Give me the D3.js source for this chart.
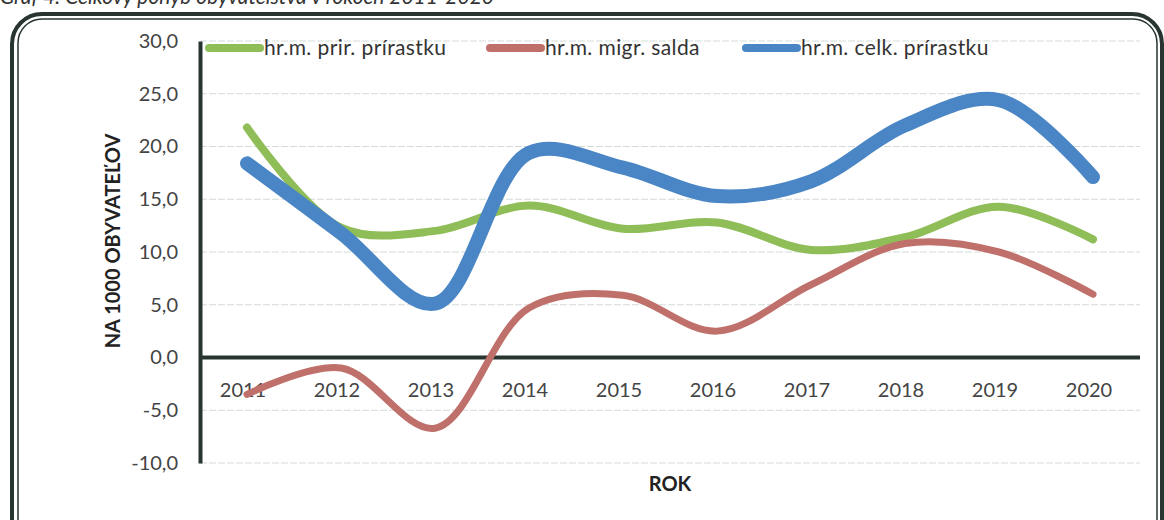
<!DOCTYPE html>
<html>
<head>
<meta charset="utf-8">
<script src="https://cdn.jsdelivr.net/npm/d3@7"></script>
<style>
  body { margin: 0; background: #fff; }
  svg { display: block; }
</style>
</head>
<body>
<div id="chart"></div>
<script>
const years = ['2011', '2012', '2013', '2014', '2015', '2016', '2017', '2018', '2019', '2020'];
const prirodzeny = [21.8, 12.3, 12.0, 14.4, 12.2, 12.8, 10.2, 11.4, 14.3, 11.2];
const migracny = [-3.5, -1.0, -6.7, 4.7, 5.9, 2.5, 6.9, 10.8, 10.0, 6.0];
const celkovy = [18.4, 11.8, 5.1, 19.4, 18.0, 15.3, 16.7, 22.0, 24.4, 17.1];
const yTicks = [30, 25, 20, 15, 10, 5, 0, -5, -10];

const series = [
  { name: 'hr.m. prir. prírastku', values: prirodzeny, color: '#8fbd57', width: 8 },
  { name: 'hr.m. migr. salda', values: migracny, color: '#c0706a', width: 7 },
  { name: 'hr.m. celk. prírastku', values: celkovy, color: '#4a86c5', width: 14 }
];

const width = 1164;
const height = 520;
const margin = { top: 41, right: 24, bottom: 57, left: 200 };
const font = 'Lato, sans-serif';

const svg = d3.select('#chart')
  .append('svg')
  .attr('width', width)
  .attr('height', height);

// title, cut off by the scan in the reference
svg.append('text')
  .attr('x', 0)
  .attr('y', 4)
  .attr('font-family', font)
  .attr('font-style', 'italic')
  .attr('font-size', 21)
  .attr('fill', '#333')
  .text('Graf 4: Celkový pohyb obyvateľstva v rokoch 2011-2020');

// double rounded frame
svg.append('rect')
  .attr('x', 12).attr('y', 14)
  .attr('width', 1150).attr('height', 540)
  .attr('rx', 30)
  .attr('fill', 'none')
  .attr('stroke', '#27342f')
  .attr('stroke-width', 4);
svg.append('rect')
  .attr('x', 18).attr('y', 19)
  .attr('width', 1139).attr('height', 525)
  .attr('rx', 24)
  .attr('fill', 'none')
  .attr('stroke', '#27342f')
  .attr('stroke-width', 1.5);

const x = d3.scaleBand()
  .domain(years)
  .range([margin.left, width - margin.right]);

const y = d3.scaleLinear()
  .domain([-10, 30])
  .range([height - margin.bottom, margin.top]);

// grid
svg.append('g')
  .selectAll('line')
  .data(yTicks)
  .join('line')
    .attr('x1', margin.left)
    .attr('x2', width - margin.right)
    .attr('y1', d => y(d))
    .attr('y2', d => y(d))
    .attr('stroke', '#d3dbd8')
    .attr('stroke-width', 1)
    .attr('stroke-dasharray', '7,2');

// y axis
const yAxis = svg.append('g')
  .attr('transform', `translate(${margin.left},0)`)
  .call(d3.axisLeft(y).tickValues(yTicks).tickSize(0).tickPadding(22)
    .tickFormat(d => d3.format('.1f')(d).replace('.', ',').replace('−', '-')));
yAxis.select('.domain')
  .attr('stroke', '#27342f')
  .attr('stroke-width', 4);
yAxis.selectAll('text')
  .attr('font-family', font)
  .attr('font-size', 20)
  .attr('fill', '#444');

// zero line
svg.append('line')
  .attr('x1', margin.left)
  .attr('x2', width - margin.right)
  .attr('y1', y(0))
  .attr('y2', y(0))
  .attr('stroke', '#27342f')
  .attr('stroke-width', 4);

// x labels
svg.append('g')
  .selectAll('text')
  .data(years)
  .join('text')
    .attr('x', d => x(d) + x.bandwidth() / 2 - 4)
    .attr('y', y(0) + 39)
    .attr('text-anchor', 'middle')
    .attr('font-family', font)
    .attr('font-size', 20)
    .attr('fill', '#444')
    .text(d => d);

// axis titles
svg.append('text')
  .attr('transform', `translate(120,241) rotate(-90)`)
  .attr('text-anchor', 'middle')
  .attr('font-family', font)
  .attr('font-weight', 'bold')
  .attr('font-size', 20)
  .attr('fill', '#222')
  .text('NA 1000 OBYVATEĽOV');

svg.append('text')
  .attr('x', 670)
  .attr('y', 491)
  .attr('text-anchor', 'middle')
  .attr('font-family', font)
  .attr('font-weight', 'bold')
  .attr('font-size', 20)
  .attr('fill', '#222')
  .text('ROK');

// lines
const line = d3.line()
  .x((d, i) => x(years[i]) + x.bandwidth() / 2)
  .y(d => y(d))
  .curve(d3.curveCatmullRom.alpha(0.5));

svg.append('g')
  .selectAll('path')
  .data(series)
  .join('path')
    .attr('d', d => line(d.values))
    .attr('fill', 'none')
    .attr('stroke', d => d.color)
    .attr('stroke-width', d => d.width)
    .attr('stroke-linecap', 'round')
    .attr('stroke-linejoin', 'round');

// legend
const legendX = [264, 545, 801];
const legend = svg.append('g')
  .selectAll('g')
  .data(series)
  .join('g')
    .attr('transform', (d, i) => `translate(${legendX[i]},48)`);
legend.append('line')
  .attr('x1', -55).attr('x2', -4)
  .attr('y1', 0).attr('y2', 0)
  .attr('stroke', d => d.color)
  .attr('stroke-width', 8)
  .attr('stroke-linecap', 'round');
legend.append('text')
  .attr('x', 0)
  .attr('y', 7)
  .attr('font-family', font)
  .attr('font-size', 21)
  .attr('letter-spacing', 0.4)
  .attr('fill', '#333')
  .text(d => d.name);
</script>
</body>
</html>
